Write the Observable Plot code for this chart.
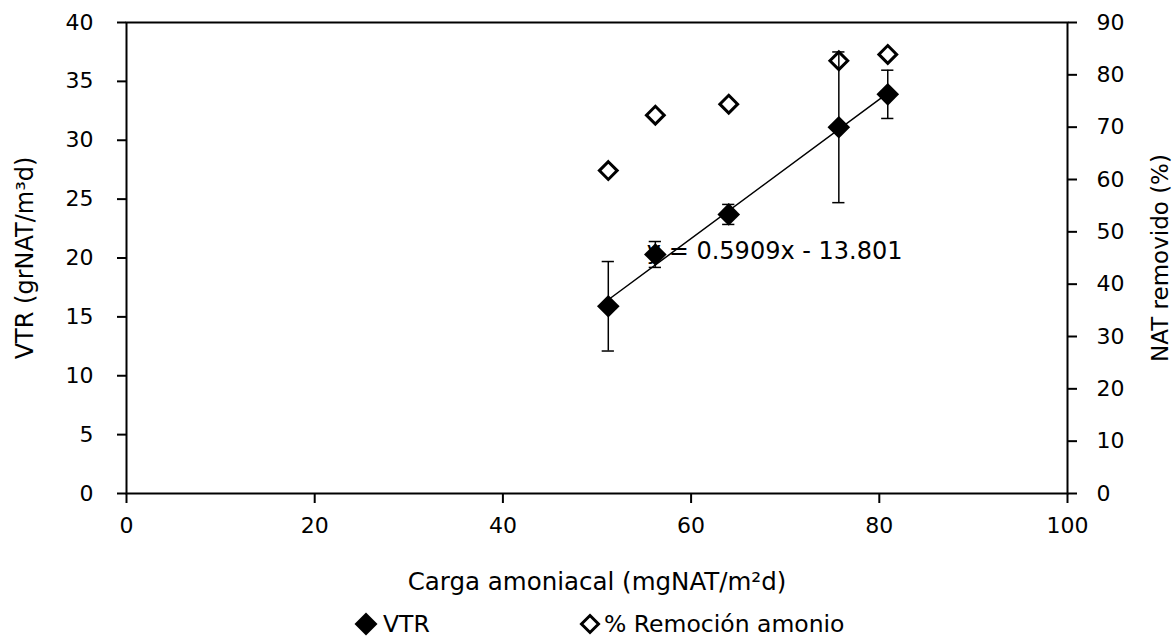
<!DOCTYPE html>
<html>
<head>
<meta charset="utf-8">
<script src="https://cdn.jsdelivr.net/npm/d3@7"></script>
<script src="https://cdn.jsdelivr.net/npm/@observablehq/plot@0.6"></script>
<style>
  body { margin: 0; background: white; font-family: "DejaVu Sans", sans-serif; }
  #wrap { position: relative; width: 1174px; height: 640px; }
  #legend { position: absolute; left: 0; top: 608px; }
</style>
</head>
<body>
<div id="wrap"></div>
<script>
// Data
const carga = [51.2, 56.2, 64.0, 75.7, 80.9];          // x: Carga amoniacal (mgNAT/m²d)
const vtr = [15.9, 20.3, 23.7, 31.1, 33.9];            // left axis: VTR (grNAT/m³d)
const vtrErr = [3.8, 1.1, 0.85, 6.4, 2.05];            // error bar half-lengths
const remocion = [61.7, 72.3, 74.4, 82.7, 83.9];       // right axis: % Remoción amonio
const trendSlope = 0.5909;
const trendIntercept = -13.801;
const trendLabel = "y = 0.5909x - 13.801";
const xTicks = [0, 20, 40, 60, 80, 100];
const leftTicks = [0, 5, 10, 15, 20, 25, 30, 35, 40];
const rightTicks = [0, 10, 20, 30, 40, 50, 60, 70, 80, 90];
const leftMax = 40, rightMax = 90;
const xTitle = "Carga amoniacal (mgNAT/m²d)";
const yTitle = "VTR (grNAT/m³d)";
const y2Title = "NAT removido (%)";
const legendLabels = ["VTR", "% Remoción amonio"];

const rows = carga.map((x, i) => ({
  x, vtr: vtr[i], lo: vtr[i] - vtrErr[i], hi: vtr[i] + vtrErr[i],
  rem: remocion[i] * leftMax / rightMax
}));
const xMin = d3.min(carga), xMax = d3.max(carga);
const trend = [xMin, xMax].map(x => ({x, y: trendSlope * x + trendIntercept}));
const capHalf = 0.65;
const FONT = "'DejaVu Sans', sans-serif";

const chart = Plot.plot({
  width: 1174,
  height: 608,
  marginLeft: 126,
  marginRight: 107,
  marginTop: 22,
  marginBottom: 115,
  style: { fontFamily: FONT, fontSize: "22px", color: "black", background: "white" },
  x: { domain: [0, 100] },
  y: { domain: [0, leftMax] },
  marks: [
    Plot.frame({ stroke: "black", strokeWidth: 2 }),
    Plot.axisX(xTicks, { tickSize: 10, tickPadding: 14, strokeWidth: 2, fontSize: 22, label: null }),
    Plot.axisY(leftTicks, { anchor: "left", tickSize: 9, tickPadding: 24, strokeWidth: 2, fontSize: 22, label: null }),
    Plot.axisY(rightTicks.map(v => v * leftMax / rightMax), { anchor: "right", tickSize: 9, tickPadding: 20, strokeWidth: 2, fontSize: 22,
      tickFormat: v => String(Math.round(v * rightMax / leftMax)), label: null }),
    Plot.text([xTitle], { frameAnchor: "bottom", dy: 89, text: d => d, textAnchor: "middle", fontSize: 24.5, lineAnchor: "middle", fill: "black" }),
    Plot.text([yTitle], { frameAnchor: "left", dx: -101, text: d => d, rotate: -90, textAnchor: "middle", fontSize: 24, lineAnchor: "middle", fill: "black" }),
    Plot.text([y2Title], { frameAnchor: "right", dx: 93, text: d => d, rotate: -90, textAnchor: "middle", fontSize: 23, lineAnchor: "middle", fill: "black" }),
    Plot.ruleX(rows, { x: "x", y1: "lo", y2: "hi", stroke: "black", strokeWidth: 1.5 }),
    Plot.ruleY(rows, { y: "hi", x1: d => d.x - capHalf, x2: d => d.x + capHalf, stroke: "black", strokeWidth: 1.5 }),
    Plot.ruleY(rows, { y: "lo", x1: d => d.x - capHalf, x2: d => d.x + capHalf, stroke: "black", strokeWidth: 1.5 }),
    Plot.line(trend, { x: "x", y: "y", stroke: "black", strokeWidth: 1.5 }),
    Plot.text([trendLabel], { x: 55.3, y: 20.6, text: d => d, textAnchor: "start", lineAnchor: "middle", fontSize: 24, fill: "black" }),
    Plot.dot(rows, { x: "x", y: "vtr", symbol: "diamond2", r: 10.2, fill: "black", stroke: "none" }),
    Plot.dot(rows, { x: "x", y: "rem", symbol: "diamond2", r: 8, fill: "none", stroke: "black", strokeWidth: 3 })
  ]
});

const wrap = document.getElementById("wrap");
wrap.appendChild(chart);

// Legend below the chart
const leg = d3.create("svg").attr("id", "legend").attr("width", 1174).attr("height", 32)
  .style("font-family", FONT).style("font-size", "23.5px");
const cy = 16;
const items = [
  { cx: 366, tx: 383, filled: true, label: legendLabels[0] },
  { cx: 590, tx: 604, filled: false, label: legendLabels[1] }
];
for (const it of items) {
  if (it.filled) {
    leg.append("path").attr("d", `M${it.cx},${cy - 11.5}L${it.cx + 11.5},${cy}L${it.cx},${cy + 11.5}L${it.cx - 11.5},${cy}Z`).attr("fill", "black");
  } else {
    leg.append("path").attr("d", `M${it.cx},${cy - 8.5}L${it.cx + 8.5},${cy}L${it.cx},${cy + 8.5}L${it.cx - 8.5},${cy}Z`)
      .attr("fill", "none").attr("stroke", "black").attr("stroke-width", 3);
  }
  leg.append("text").attr("x", it.tx).attr("y", cy).attr("dy", "0.35em").attr("fill", "black").text(it.label);
}
wrap.appendChild(leg.node());
</script>
</body>
</html>
